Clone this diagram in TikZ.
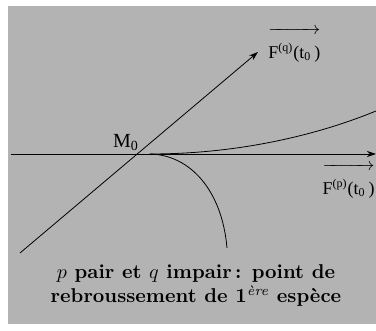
\documentclass[tikz,border=0pt]{standalone}
\usepackage{fontspec}
\newfontfamily\etiq{Liberation Serif}
\usetikzlibrary{arrows.meta, positioning}
\definecolor{fondgris}{RGB}{179,179,179}
\newcommand{\vecF}[1]{$\overrightarrow{\hbox{\etiq\rule{0pt}{13pt}F\textsuperscript{(#1)}(t\textsubscript{0}\,)}}$}

\begin{document}
\begin{tikzpicture}[
  x=0.5pt, y=-0.5pt,
  font=\normalsize,
  axe/.style={thin, -{Stealth[length=4.5pt, width=3pt]}},
  branche/.style={thin},
  etiquette/.style={inner sep=0pt, align=center, font=\fontsize{9}{11}\selectfont},
  legende/.style={align=center, font=\normalsize\bfseries}
]
\useasboundingbox (0,0) rectangle (376,331);
\fill[fondgris] (8,6) rectangle (376,324);

% Points
\coordinate (M0) at (137,154);
\coordinate (gauche) at (11,154);
\coordinate (droite) at (376,154);
\coordinate (bas) at (20,253);
\coordinate (haut) at (258,52);
\coordinate (depart) at (150,154);
\coordinate (finhaut) at (376,111);
\coordinate (finbas) at (227,248);

% Labels
\node[etiquette, font=\fontsize{10}{12}\selectfont] (m0) at (126,143) {\etiq M\textsubscript{0}};
\node[etiquette, anchor=south west] (fq) at (268,63) {\vecF{q}};
\node[etiquette, anchor=south east] (fp) at (375,199) {\vecF{p}};
\node[legende] (titre) at (196,286) {$p$ pair et $q$ impair\,: point de\\rebroussement de 1\textsuperscript{\itshape\mdseries ère} espèce};

% Arrows
\draw[axe] (gauche) -- (droite);
\draw[axe] (bas) -- (haut);

% Branches of the cusp
\draw[branche] (depart) .. controls (250,154) and (330,130) .. (finhaut);
\draw[branche] (depart) .. controls (190,155) and (222,190) .. (finbas);

\end{tikzpicture}
\end{document}
